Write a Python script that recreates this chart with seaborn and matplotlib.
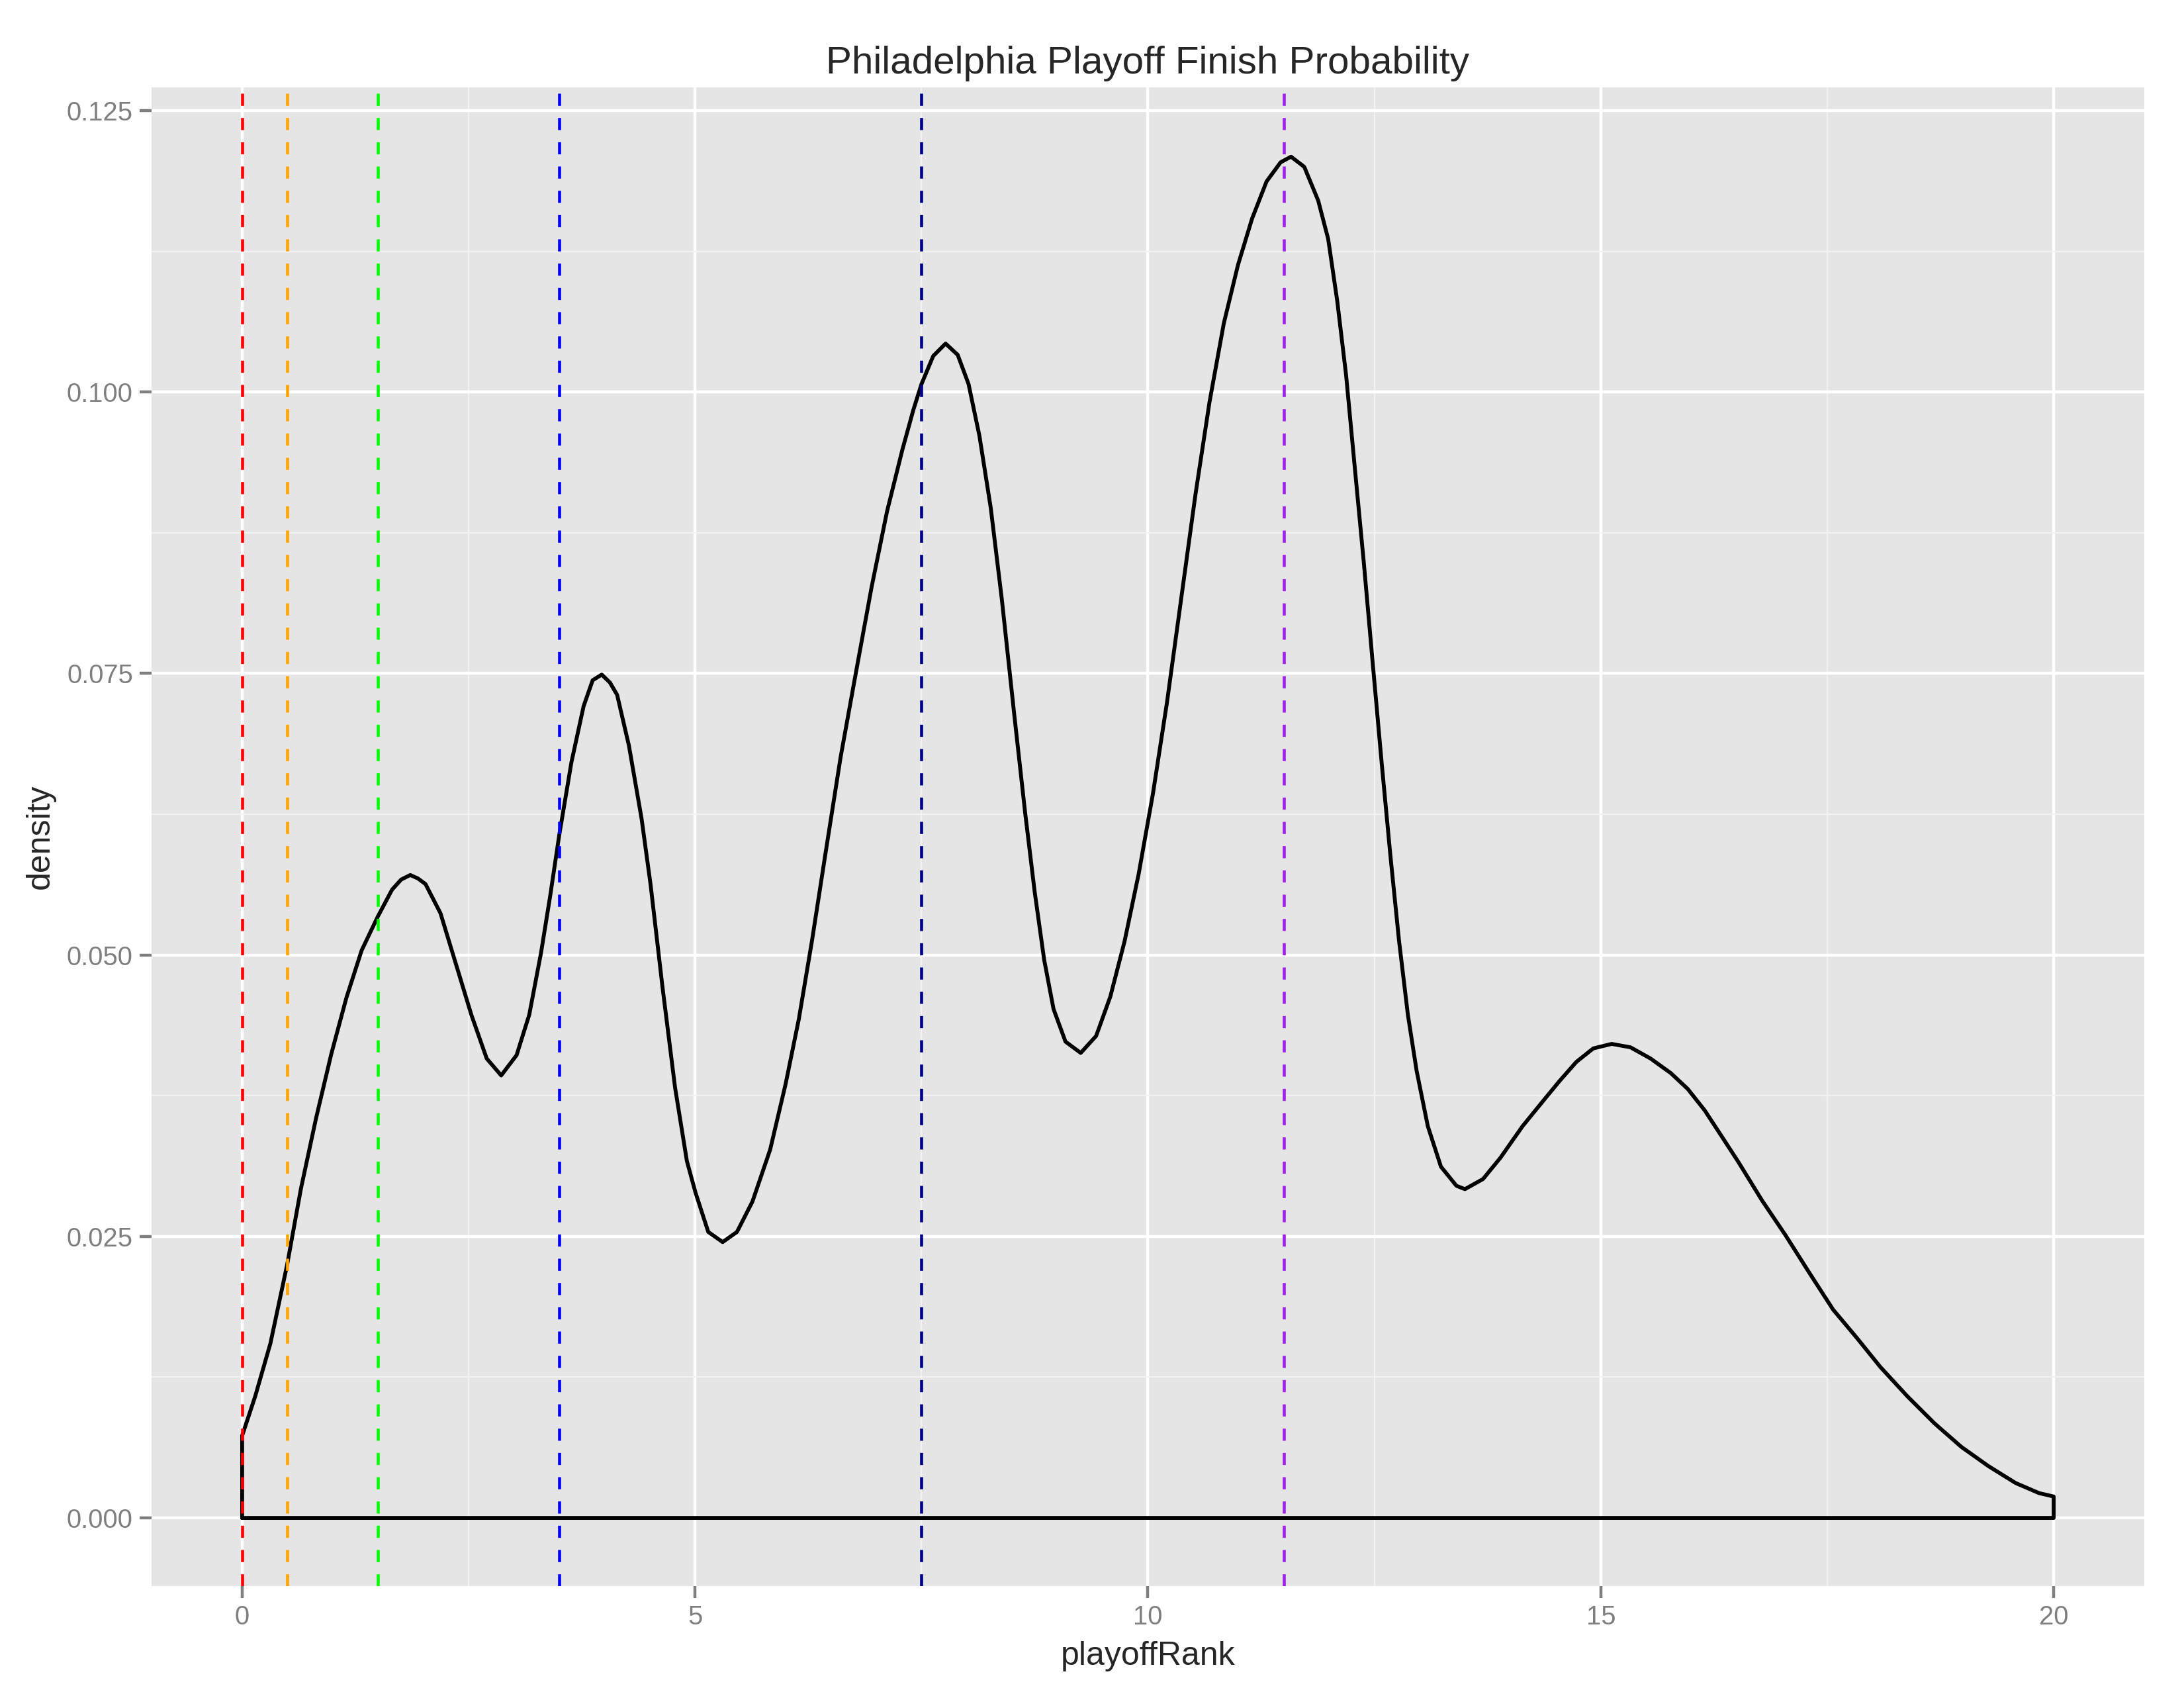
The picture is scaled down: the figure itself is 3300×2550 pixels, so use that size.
# Philadelphia playoff finish probability - density curve with cutoff lines
import pandas as pd
import numpy as np
import matplotlib
matplotlib.use("Agg")
import matplotlib.pyplot as plt
import seaborn as sns

# Density curve (playoffRank, density)
rank_x = [0.000, 0.144, 0.312, 0.497, 0.648, 0.816, 0.984, 1.151, 1.319, 1.497,
          1.655, 1.756, 1.856, 1.940, 2.024, 2.190, 2.360, 2.530, 2.700, 2.860,
          3.030, 3.170, 3.300, 3.400, 3.500, 3.635, 3.770, 3.870, 3.970, 4.060,
          4.140, 4.270, 4.410, 4.510, 4.640, 4.780, 4.910, 5.005, 5.146, 5.305,
          5.463, 5.634, 5.829, 5.999, 6.146, 6.292, 6.438, 6.608, 6.779, 6.950,
          7.120, 7.290, 7.410, 7.500, 7.630, 7.766, 7.900, 8.020, 8.140, 8.265,
          8.387, 8.525, 8.645, 8.750, 8.854, 8.958, 9.090, 9.258, 9.428, 9.585,
          9.742, 9.898, 10.055, 10.210, 10.368, 10.525, 10.680, 10.838, 10.995, 11.150,
          11.310, 11.465, 11.580, 11.726, 11.880, 11.990, 12.090, 12.188, 12.285, 12.383,
          12.480, 12.578, 12.675, 12.772, 12.870, 12.967, 13.090, 13.235, 13.406, 13.500,
          13.700, 13.893, 14.137, 14.380, 14.544, 14.730, 14.917, 15.120, 15.327, 15.550,
          15.774, 15.960, 16.147, 16.334, 16.520, 16.780, 17.040, 17.300, 17.565, 17.826,
          18.087, 18.385, 18.684, 18.982, 19.280, 19.580, 19.840, 20.000]
density = [0.0073, 0.0108, 0.0155, 0.0225, 0.0292, 0.0355, 0.0412, 0.0462, 0.0504, 0.0534,
           0.0558, 0.0567, 0.0571, 0.0568, 0.0563, 0.0537, 0.0492, 0.0447, 0.0408, 0.0393,
           0.0411, 0.0447, 0.0502, 0.0552, 0.0606, 0.0671, 0.0721, 0.0744, 0.0749, 0.0742,
           0.0731, 0.0686, 0.0621, 0.0562, 0.0472, 0.0382, 0.0317, 0.0289, 0.0254, 0.0245,
           0.0254, 0.0281, 0.0327, 0.0385, 0.0443, 0.0513, 0.0589, 0.0676, 0.0752, 0.0827,
           0.0894, 0.0949, 0.0984, 0.1007, 0.1032, 0.1043, 0.1033, 0.1007, 0.0961, 0.0897,
           0.0816, 0.0713, 0.0626, 0.0556, 0.0496, 0.0452, 0.0423, 0.0413, 0.0428, 0.0463,
           0.0512, 0.0572, 0.0643, 0.0724, 0.0817, 0.0909, 0.0991, 0.1061, 0.1113, 0.1154,
           0.1187, 0.1204, 0.1209, 0.1200, 0.1170, 0.1136, 0.1081, 0.1015, 0.0932, 0.0849,
           0.0761, 0.0673, 0.0590, 0.0513, 0.0447, 0.0397, 0.0348, 0.0312, 0.0295, 0.0292,
           0.0301, 0.0320, 0.0348, 0.0372, 0.0388, 0.0405, 0.0417, 0.0421, 0.0418, 0.0408,
           0.0395, 0.0381, 0.0362, 0.0339, 0.0316, 0.0282, 0.0251, 0.0218, 0.0185, 0.0160,
           0.0134, 0.0108, 0.0084, 0.0063, 0.0046, 0.0031, 0.0022, 0.0019]

# Dashed cutoff lines
cutoffs = [0, 0.5, 1.5, 3.5, 7.5, 11.5]
cutoff_colors = ["#FF0000", "#FFA500", "#00FF00", "#0000FF", "#00008B", "#A020F0"]

x_ticks = [0, 5, 10, 15, 20]
x_minor = [2.5, 7.5, 12.5, 17.5]
y_ticks = [0.000, 0.025, 0.050, 0.075, 0.100, 0.125]
y_minor = [0.0125, 0.0375, 0.0625, 0.0875, 0.1125]

sns.set_style("darkgrid", {"axes.facecolor": "#E5E5E5", "grid.color": "white"})
plt.rcParams["font.family"] = ["Liberation Sans", "DejaVu Sans"]

# closed outline like geom_density: up from baseline, along curve, back along baseline
poly = pd.DataFrame({
    "playoffRank": [rank_x[0]] + rank_x + [rank_x[-1], rank_x[0]],
    "density": [0] + density + [0, 0],
})

fig = plt.figure(figsize=(11, 8.5), dpi=300)
ax = fig.add_axes([0.0694, 0.0604, 0.9818 - 0.0694, 0.9482 - 0.0604])

sns.lineplot(data=poly, x="playoffRank", y="density", sort=False, estimator=None,
             color="black", linewidth=1.4, ax=ax, zorder=3,
             solid_joinstyle="round", solid_capstyle="round")

for xc, col in zip(cutoffs, cutoff_colors):
    ax.axvline(xc, color=col, linestyle=(0, (4, 4)), linewidth=1.1, zorder=4)

ax.set_xlim(-1, 21)
ax.set_ylim(-0.00605, 0.12705)
ax.set_xticks(x_ticks)
ax.set_xticks(x_minor, minor=True)
ax.set_yticks(y_ticks)
ax.set_yticks(y_minor, minor=True)
ax.set_yticklabels([f"{v:.3f}" for v in y_ticks])

ax.grid(which="major", color="white", linewidth=1.07)
ax.grid(which="minor", color="#F2F2F2", linewidth=0.53)
ax.set_axisbelow(True)
for s in ax.spines.values():
    s.set_visible(False)

ax.tick_params(which="major", length=4.25, width=1.07, color="#7F7F7F",
               labelcolor="#7F7F7F", labelsize=9.6, pad=2.5, bottom=True, left=True)
ax.tick_params(which="minor", length=0)

ax.set_xlabel("playoffRank", fontsize=12, labelpad=4)
ax.set_ylabel("density", fontsize=12, labelpad=4)
ax.set_title("Philadelphia Playoff Finish Probability", fontsize=14, pad=5)

fig.savefig("out.png", dpi=300)
